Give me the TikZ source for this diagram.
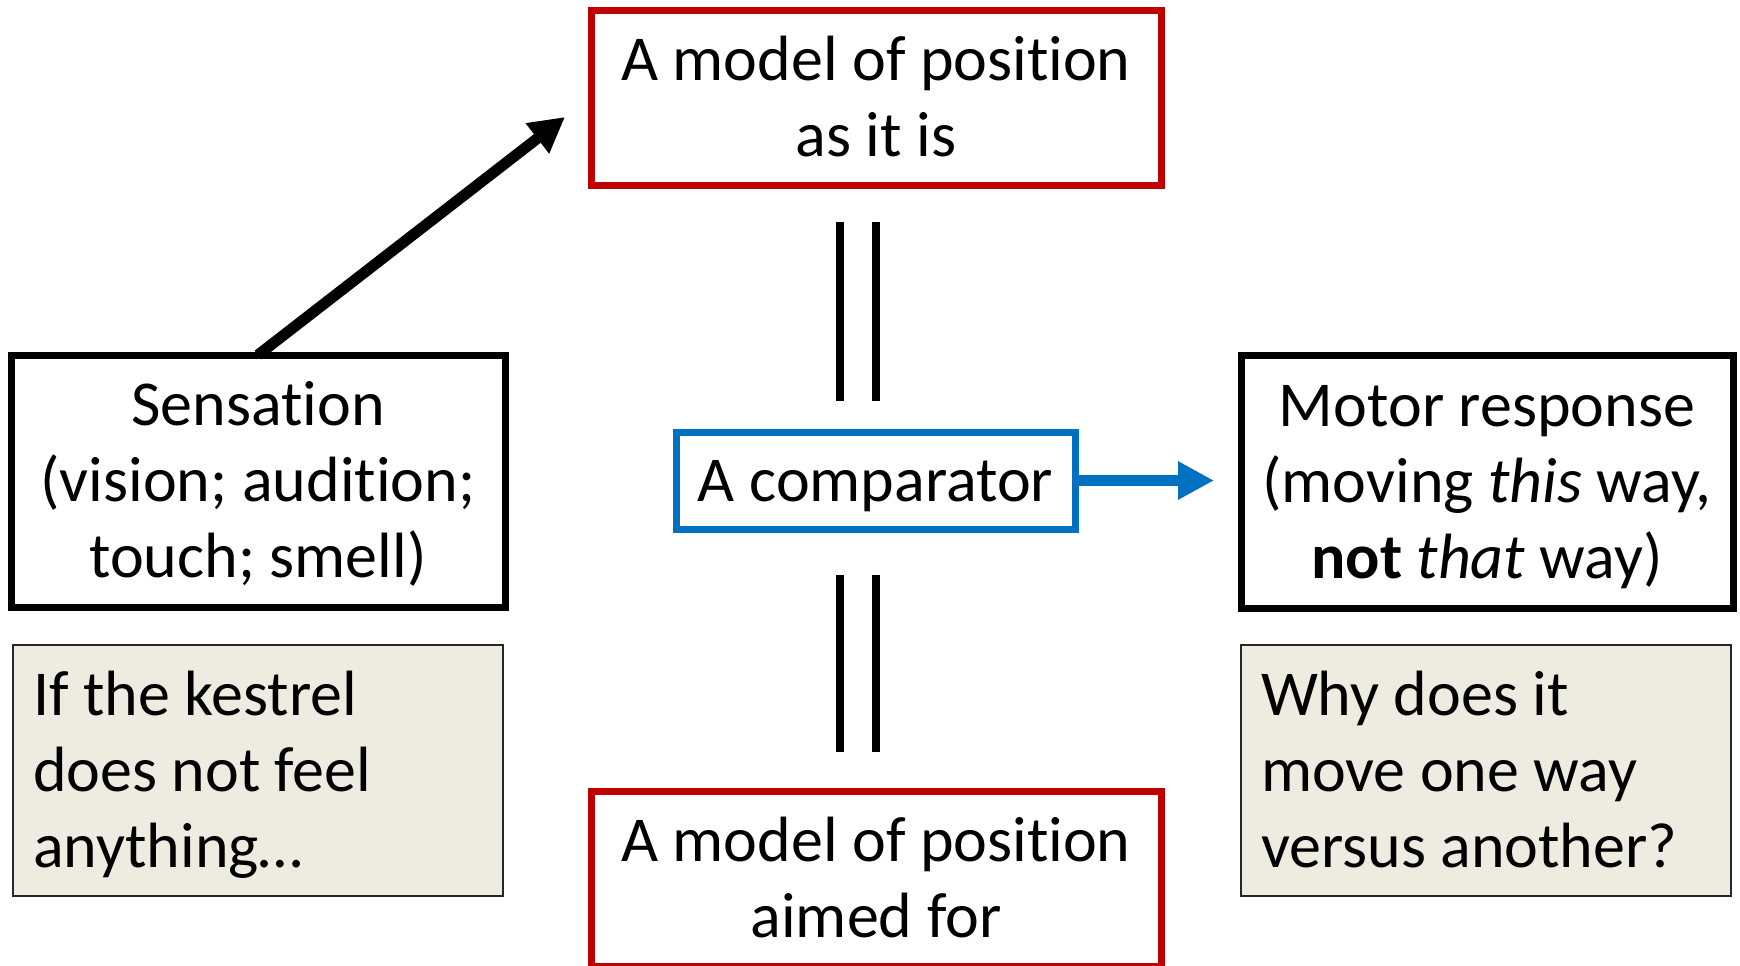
\documentclass[tikz,border=0pt]{standalone}
\usepackage{fontspec}
\setmainfont{Carlito}[Ligatures=NoCommon]
\usetikzlibrary{arrows.meta}
\definecolor{boxred}{HTML}{C00000}
\definecolor{boxblue}{HTML}{0070C0}
\definecolor{notefill}{HTML}{EEECE1}
\definecolor{noteline}{HTML}{262626}
% one text line with a fixed-height strut, so every box centres its lines alike
\newcommand{\tline}[1]{\mbox{\rule[-8.65pt]{0pt}{38pt}#1}}
\tikzset{
  every node/.style={font=\fontsize{32}{38}\selectfont, inner sep=0pt, outer sep=0pt},
  redbox/.style={draw=boxred, line width=3.5pt, rectangle, align=center},
  bluebox/.style={draw=boxblue, line width=3.5pt, rectangle, align=center},
  blackbox/.style={draw=black, line width=3.5pt, rectangle, align=center},
  notebox/.style={draw=noteline, fill=notefill, line width=1pt, rectangle, align=flush left},
  eqline/.style={line width=4.25pt, black},
  feedarrow/.style={line width=5.5pt, black, -{Triangle[length=17.5pt,width=18pt]}},
  outarrow/.style={line width=5.5pt, boxblue, -{Triangle[length=18pt,width=18pt]}}
}
\begin{document}
\begin{tikzpicture}[x=0.5pt, y=-0.5pt]
  \useasboundingbox (0,0) rectangle (1740,965);

  % central column: the two models and the comparator between them
  \node[redbox, minimum width=285pt, minimum height=87.5pt] (asis) at (876,97.5)
    {\tline{A model of position}\\\tline{as it is}};
  \node[redbox, minimum width=285pt, minimum height=87.5pt] (aim) at (876,878.5)
    {\tline{A model of position}\\\tline{aimed for}};
  \node[bluebox, minimum width=199.5pt, minimum height=48.5pt] (comp) at (875.5,480.5)
    {\tline{A comparator}};

  % side boxes
  \node[blackbox, minimum width=247pt, minimum height=126pt] (sens) at (258,481)
    {\tline{Sensation}\\\tline{(vision; audition;}\\\tline{touch; smell)}};
  \node[blackbox, minimum width=246pt, minimum height=126.5pt] (motor) at (1487,481.5)
    {\tline{Motor response}\\\tline{(moving \textit{this} way,}\\\tline{\textbf{not} \textit{that} way)}};

  % notes under the side boxes
  \node[notebox, minimum width=245pt, minimum height=125.5pt, text width=225pt] (note1) at (258,770.5)
    {\tline{If the kestrel}\\\tline{does not feel}\\\tline{anything\ldots}};
  \node[notebox, minimum width=245pt, minimum height=125.5pt, text width=225pt] (note2) at (1486,770.5)
    {\tline{Why does it}\\\tline{move one way}\\\tline{versus another?}};

  % "equals" bars linking the models to the comparator
  \draw[eqline] (840,222) -- (840,401);
  \draw[eqline] (876,222) -- (876,401);
  \draw[eqline] (840,575) -- (840,752);
  \draw[eqline] (876,575) -- (876,752);

  % arrows
  \coordinate (senstip) at (565,117);
  \coordinate (motortip) at (1214,480.5);
  \draw[feedarrow] (sens.north) -- (senstip);
  \draw[outarrow] (comp.east) -- (motortip);
\end{tikzpicture}
\end{document}
